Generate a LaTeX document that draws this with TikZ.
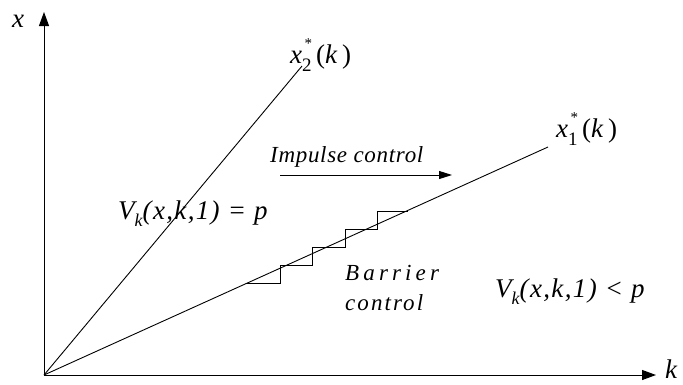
\documentclass[tikz,border=0pt]{standalone}
\usepackage{fontspec}
\setmainfont{Liberation Serif}
\newfontfamily\spv[LetterSpace=5]{Liberation Serif}
\newfontfamily\spi[LetterSpace=3]{Liberation Serif}
\newfontfamily\spb[LetterSpace=18]{Liberation Serif}
\newfontfamily\spc[LetterSpace=9]{Liberation Serif}
\usetikzlibrary{arrows.meta}
\tikzset{
  lbl/.style={inner sep=0pt, anchor=base west, font=\fontsize{27}{29}\selectfont\itshape},
  mid/.style={inner sep=0pt, anchor=base west},
  ax/.style={line width=1pt, -{Triangle[length=14pt,width=10pt]}},
  ln/.style={line width=0.9pt},
}
\newcommand{\xstar}[1]{\textit{x}\makebox[0pt][l]{\raisebox{0.55em}{\upshape\fontsize{15}{15}\selectfont\,*}}\raisebox{-0.3em}{\upshape\fontsize{19}{19}\selectfont #1}\,\upshape(\textit{k}\,)}
\newcommand{\vsub}{V\raisebox{-0.28em}{\fontsize{18}{18}\selectfont k}}
\begin{document}
\begin{tikzpicture}[x=1pt,y=-1pt]
\useasboundingbox (0,0) rectangle (683,384);
\coordinate (O) at (44,375);
\coordinate (Y) at (44,12);
\coordinate (X) at (656,375);
\coordinate (L2) at (302,66);
\coordinate (L1) at (548,147);
\draw[ax] (O) -- (Y);
\draw[ax] (O) -- (X);
\draw[ln] (O) -- (L2);
\draw[ln] (O) -- (L1);
\draw[ln] (247,283) -- (280,283) -- (280,265) -- (312,265) -- (312,247) -- (345,247) -- (345,229) -- (377,229) -- (377,211) -- (408,211);
\node[lbl] (xl) at (12,27) {x};
\node[lbl] (kl) at (665,378) {k};
\node[lbl] (x2) at (290,63) {\xstar{2}};
\node[lbl] (x1) at (556,137) {\xstar{1}};
\node[mid, font=\fontsize{23}{25}\selectfont\spi\itshape] (imp) at (270,162) {Impulse control};
\coordinate (A1) at (280,175);
\coordinate (A2) at (452,175);
\draw[line width=0.9pt, -{Triangle[length=13pt,width=8pt]}] (A1) -- (A2);
\node[mid, font=\fontsize{27}{29}\selectfont\spv\itshape] (v1) at (118,219) {\vsub(x,k,1) = p};
\node[mid, font=\fontsize{23}{25}\selectfont\spb\itshape] (b1) at (345,280) {Barrier};
\node[mid, font=\fontsize{23}{25}\selectfont\spc\itshape] (b2) at (345,310) {control};
\node[mid, font=\fontsize{27}{29}\selectfont\spv\itshape] (v2) at (495,297) {\vsub(x,k,1) < p};
\end{tikzpicture}
\end{document}
